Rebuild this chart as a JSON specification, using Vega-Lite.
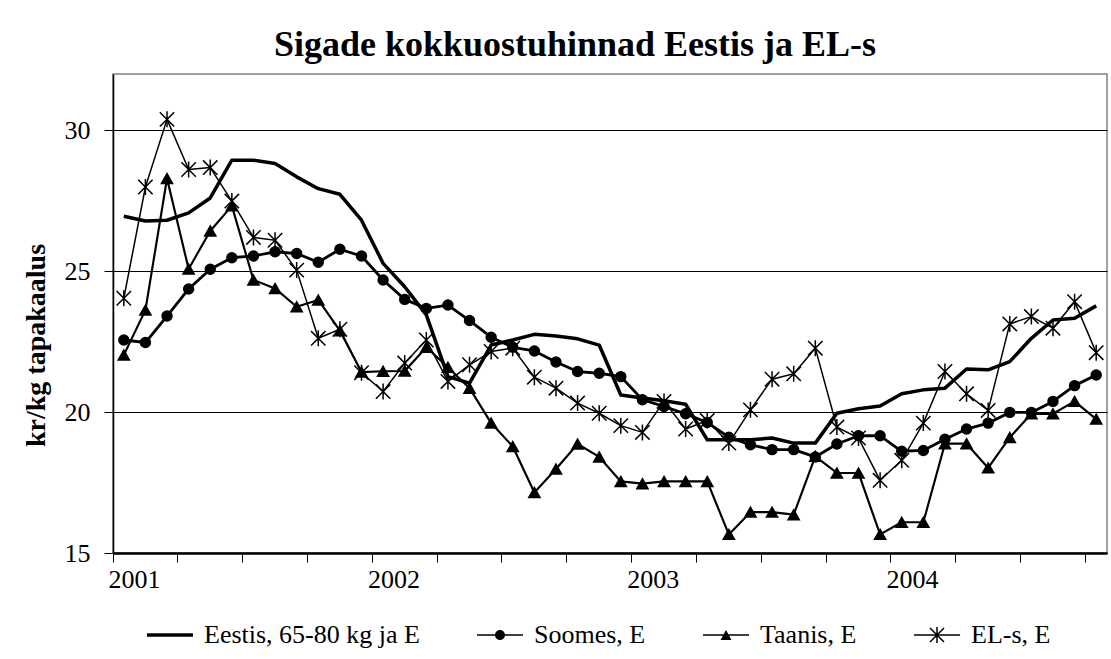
{
  "$schema": "https://vega.github.io/schema/vega-lite/v6.json",
  "width": 994,
  "height": 479,
  "autosize": {"type": "none"},
  "padding": {"left": 113, "top": 74, "right": 4, "bottom": 106},
  "background": "white",
  "title": {
    "text": "Sigade kokkuostuhinnad Eestis ja EL-s",
    "font": "Liberation Serif",
    "fontSize": 36,
    "fontWeight": "bold",
    "color": "black",
    "anchor": "middle",
    "frame": "group",
    "offset": 10,
    "dx": -35
  },
  "data": {
    "values": [
      {"month":"2001-01","series":"Eestis, 65-80 kg ja E","price":26.95},
      {"month":"2001-02","series":"Eestis, 65-80 kg ja E","price":26.78},
      {"month":"2001-03","series":"Eestis, 65-80 kg ja E","price":26.81},
      {"month":"2001-04","series":"Eestis, 65-80 kg ja E","price":27.07},
      {"month":"2001-05","series":"Eestis, 65-80 kg ja E","price":27.6},
      {"month":"2001-06","series":"Eestis, 65-80 kg ja E","price":28.94},
      {"month":"2001-07","series":"Eestis, 65-80 kg ja E","price":28.94},
      {"month":"2001-08","series":"Eestis, 65-80 kg ja E","price":28.82},
      {"month":"2001-09","series":"Eestis, 65-80 kg ja E","price":28.35},
      {"month":"2001-10","series":"Eestis, 65-80 kg ja E","price":27.93},
      {"month":"2001-11","series":"Eestis, 65-80 kg ja E","price":27.73},
      {"month":"2001-12","series":"Eestis, 65-80 kg ja E","price":26.81},
      {"month":"2002-01","series":"Eestis, 65-80 kg ja E","price":25.28},
      {"month":"2002-02","series":"Eestis, 65-80 kg ja E","price":24.45},
      {"month":"2002-03","series":"Eestis, 65-80 kg ja E","price":23.45},
      {"month":"2002-04","series":"Eestis, 65-80 kg ja E","price":21.26},
      {"month":"2002-05","series":"Eestis, 65-80 kg ja E","price":21.03},
      {"month":"2002-06","series":"Eestis, 65-80 kg ja E","price":22.38},
      {"month":"2002-07","series":"Eestis, 65-80 kg ja E","price":22.56},
      {"month":"2002-08","series":"Eestis, 65-80 kg ja E","price":22.76},
      {"month":"2002-09","series":"Eestis, 65-80 kg ja E","price":22.7},
      {"month":"2002-10","series":"Eestis, 65-80 kg ja E","price":22.6},
      {"month":"2002-11","series":"Eestis, 65-80 kg ja E","price":22.38},
      {"month":"2002-12","series":"Eestis, 65-80 kg ja E","price":20.61},
      {"month":"2003-01","series":"Eestis, 65-80 kg ja E","price":20.5},
      {"month":"2003-02","series":"Eestis, 65-80 kg ja E","price":20.4},
      {"month":"2003-03","series":"Eestis, 65-80 kg ja E","price":20.28},
      {"month":"2003-04","series":"Eestis, 65-80 kg ja E","price":19.02},
      {"month":"2003-05","series":"Eestis, 65-80 kg ja E","price":19.02},
      {"month":"2003-06","series":"Eestis, 65-80 kg ja E","price":19.02},
      {"month":"2003-07","series":"Eestis, 65-80 kg ja E","price":19.08},
      {"month":"2003-08","series":"Eestis, 65-80 kg ja E","price":18.9},
      {"month":"2003-09","series":"Eestis, 65-80 kg ja E","price":18.9},
      {"month":"2003-10","series":"Eestis, 65-80 kg ja E","price":19.96},
      {"month":"2003-11","series":"Eestis, 65-80 kg ja E","price":20.12},
      {"month":"2003-12","series":"Eestis, 65-80 kg ja E","price":20.22},
      {"month":"2004-01","series":"Eestis, 65-80 kg ja E","price":20.65},
      {"month":"2004-02","series":"Eestis, 65-80 kg ja E","price":20.79},
      {"month":"2004-03","series":"Eestis, 65-80 kg ja E","price":20.85},
      {"month":"2004-04","series":"Eestis, 65-80 kg ja E","price":21.53},
      {"month":"2004-05","series":"Eestis, 65-80 kg ja E","price":21.5},
      {"month":"2004-06","series":"Eestis, 65-80 kg ja E","price":21.79},
      {"month":"2004-07","series":"Eestis, 65-80 kg ja E","price":22.62},
      {"month":"2004-08","series":"Eestis, 65-80 kg ja E","price":23.27},
      {"month":"2004-09","series":"Eestis, 65-80 kg ja E","price":23.33},
      {"month":"2004-10","series":"Eestis, 65-80 kg ja E","price":23.77},

      {"month":"2001-01","series":"Soomes, E","price":22.56},
      {"month":"2001-02","series":"Soomes, E","price":22.47},
      {"month":"2001-03","series":"Soomes, E","price":23.41},
      {"month":"2001-04","series":"Soomes, E","price":24.37},
      {"month":"2001-05","series":"Soomes, E","price":25.07},
      {"month":"2001-06","series":"Soomes, E","price":25.48},
      {"month":"2001-07","series":"Soomes, E","price":25.54},
      {"month":"2001-08","series":"Soomes, E","price":25.69},
      {"month":"2001-09","series":"Soomes, E","price":25.63},
      {"month":"2001-10","series":"Soomes, E","price":25.32},
      {"month":"2001-11","series":"Soomes, E","price":25.78},
      {"month":"2001-12","series":"Soomes, E","price":25.54},
      {"month":"2002-01","series":"Soomes, E","price":24.69},
      {"month":"2002-02","series":"Soomes, E","price":24.0},
      {"month":"2002-03","series":"Soomes, E","price":23.68},
      {"month":"2002-04","series":"Soomes, E","price":23.8},
      {"month":"2002-05","series":"Soomes, E","price":23.25},
      {"month":"2002-06","series":"Soomes, E","price":22.66},
      {"month":"2002-07","series":"Soomes, E","price":22.3},
      {"month":"2002-08","series":"Soomes, E","price":22.17},
      {"month":"2002-09","series":"Soomes, E","price":21.78},
      {"month":"2002-10","series":"Soomes, E","price":21.44},
      {"month":"2002-11","series":"Soomes, E","price":21.38},
      {"month":"2002-12","series":"Soomes, E","price":21.26},
      {"month":"2003-01","series":"Soomes, E","price":20.44},
      {"month":"2003-02","series":"Soomes, E","price":20.2},
      {"month":"2003-03","series":"Soomes, E","price":19.94},
      {"month":"2003-04","series":"Soomes, E","price":19.63},
      {"month":"2003-05","series":"Soomes, E","price":19.11},
      {"month":"2003-06","series":"Soomes, E","price":18.84},
      {"month":"2003-07","series":"Soomes, E","price":18.67},
      {"month":"2003-08","series":"Soomes, E","price":18.67},
      {"month":"2003-09","series":"Soomes, E","price":18.41},
      {"month":"2003-10","series":"Soomes, E","price":18.87},
      {"month":"2003-11","series":"Soomes, E","price":19.16},
      {"month":"2003-12","series":"Soomes, E","price":19.16},
      {"month":"2004-01","series":"Soomes, E","price":18.61},
      {"month":"2004-02","series":"Soomes, E","price":18.64},
      {"month":"2004-03","series":"Soomes, E","price":19.04},
      {"month":"2004-04","series":"Soomes, E","price":19.4},
      {"month":"2004-05","series":"Soomes, E","price":19.61},
      {"month":"2004-06","series":"Soomes, E","price":19.99},
      {"month":"2004-07","series":"Soomes, E","price":19.99},
      {"month":"2004-08","series":"Soomes, E","price":20.38},
      {"month":"2004-09","series":"Soomes, E","price":20.94},
      {"month":"2004-10","series":"Soomes, E","price":21.32},

      {"month":"2001-01","series":"Taanis, E","price":22.03},
      {"month":"2001-02","series":"Taanis, E","price":23.62},
      {"month":"2001-03","series":"Taanis, E","price":28.29},
      {"month":"2001-04","series":"Taanis, E","price":25.08},
      {"month":"2001-05","series":"Taanis, E","price":26.43},
      {"month":"2001-06","series":"Taanis, E","price":27.32},
      {"month":"2001-07","series":"Taanis, E","price":24.69},
      {"month":"2001-08","series":"Taanis, E","price":24.39},
      {"month":"2001-09","series":"Taanis, E","price":23.74},
      {"month":"2001-10","series":"Taanis, E","price":23.98},
      {"month":"2001-11","series":"Taanis, E","price":22.89},
      {"month":"2001-12","series":"Taanis, E","price":21.42},
      {"month":"2002-01","series":"Taanis, E","price":21.45},
      {"month":"2002-02","series":"Taanis, E","price":21.46},
      {"month":"2002-03","series":"Taanis, E","price":22.3},
      {"month":"2002-04","series":"Taanis, E","price":21.59},
      {"month":"2002-05","series":"Taanis, E","price":20.85},
      {"month":"2002-06","series":"Taanis, E","price":19.61},
      {"month":"2002-07","series":"Taanis, E","price":18.78},
      {"month":"2002-08","series":"Taanis, E","price":17.15},
      {"month":"2002-09","series":"Taanis, E","price":17.98},
      {"month":"2002-10","series":"Taanis, E","price":18.87},
      {"month":"2002-11","series":"Taanis, E","price":18.41},
      {"month":"2002-12","series":"Taanis, E","price":17.54},
      {"month":"2003-01","series":"Taanis, E","price":17.46},
      {"month":"2003-02","series":"Taanis, E","price":17.54},
      {"month":"2003-03","series":"Taanis, E","price":17.54},
      {"month":"2003-04","series":"Taanis, E","price":17.54},
      {"month":"2003-05","series":"Taanis, E","price":15.66},
      {"month":"2003-06","series":"Taanis, E","price":16.45},
      {"month":"2003-07","series":"Taanis, E","price":16.45},
      {"month":"2003-08","series":"Taanis, E","price":16.36},
      {"month":"2003-09","series":"Taanis, E","price":18.43},
      {"month":"2003-10","series":"Taanis, E","price":17.84},
      {"month":"2003-11","series":"Taanis, E","price":17.84},
      {"month":"2003-12","series":"Taanis, E","price":15.66},
      {"month":"2004-01","series":"Taanis, E","price":16.09},
      {"month":"2004-02","series":"Taanis, E","price":16.09},
      {"month":"2004-03","series":"Taanis, E","price":18.88},
      {"month":"2004-04","series":"Taanis, E","price":18.88},
      {"month":"2004-05","series":"Taanis, E","price":18.02},
      {"month":"2004-06","series":"Taanis, E","price":19.1},
      {"month":"2004-07","series":"Taanis, E","price":19.94},
      {"month":"2004-08","series":"Taanis, E","price":19.94},
      {"month":"2004-09","series":"Taanis, E","price":20.38},
      {"month":"2004-10","series":"Taanis, E","price":19.75},

      {"month":"2001-01","series":"EL-s, E","price":24.04},
      {"month":"2001-02","series":"EL-s, E","price":27.99},
      {"month":"2001-03","series":"EL-s, E","price":30.39},
      {"month":"2001-04","series":"EL-s, E","price":28.61},
      {"month":"2001-05","series":"EL-s, E","price":28.68},
      {"month":"2001-06","series":"EL-s, E","price":27.49},
      {"month":"2001-07","series":"EL-s, E","price":26.2},
      {"month":"2001-08","series":"EL-s, E","price":26.1},
      {"month":"2001-09","series":"EL-s, E","price":25.04},
      {"month":"2001-10","series":"EL-s, E","price":22.62},
      {"month":"2001-11","series":"EL-s, E","price":22.94},
      {"month":"2001-12","series":"EL-s, E","price":21.4},
      {"month":"2002-01","series":"EL-s, E","price":20.73},
      {"month":"2002-02","series":"EL-s, E","price":21.74},
      {"month":"2002-03","series":"EL-s, E","price":22.56},
      {"month":"2002-04","series":"EL-s, E","price":21.09},
      {"month":"2002-05","series":"EL-s, E","price":21.68},
      {"month":"2002-06","series":"EL-s, E","price":22.15},
      {"month":"2002-07","series":"EL-s, E","price":22.27},
      {"month":"2002-08","series":"EL-s, E","price":21.24},
      {"month":"2002-09","series":"EL-s, E","price":20.85},
      {"month":"2002-10","series":"EL-s, E","price":20.32},
      {"month":"2002-11","series":"EL-s, E","price":19.96},
      {"month":"2002-12","series":"EL-s, E","price":19.52},
      {"month":"2003-01","series":"EL-s, E","price":19.28},
      {"month":"2003-02","series":"EL-s, E","price":20.38},
      {"month":"2003-03","series":"EL-s, E","price":19.4},
      {"month":"2003-04","series":"EL-s, E","price":19.7},
      {"month":"2003-05","series":"EL-s, E","price":18.9},
      {"month":"2003-06","series":"EL-s, E","price":20.08},
      {"month":"2003-07","series":"EL-s, E","price":21.17},
      {"month":"2003-08","series":"EL-s, E","price":21.36},
      {"month":"2003-09","series":"EL-s, E","price":22.27},
      {"month":"2003-10","series":"EL-s, E","price":19.47},
      {"month":"2003-11","series":"EL-s, E","price":19.08},
      {"month":"2003-12","series":"EL-s, E","price":17.58},
      {"month":"2004-01","series":"EL-s, E","price":18.29},
      {"month":"2004-02","series":"EL-s, E","price":19.61},
      {"month":"2004-03","series":"EL-s, E","price":21.44},
      {"month":"2004-04","series":"EL-s, E","price":20.65},
      {"month":"2004-05","series":"EL-s, E","price":20.06},
      {"month":"2004-06","series":"EL-s, E","price":23.13},
      {"month":"2004-07","series":"EL-s, E","price":23.39},
      {"month":"2004-08","series":"EL-s, E","price":22.98},
      {"month":"2004-09","series":"EL-s, E","price":23.92},
      {"month":"2004-10","series":"EL-s, E","price":22.11}
    ]
  },
  "encoding": {
    "x": {
      "field": "month",
      "type": "ordinal",
      "sort": null,
      "scale": {"type": "band", "paddingInner": 0, "paddingOuter": 0},
      "axis": {
        "title": null,
        "values": ["2001-01","2001-04","2001-07","2001-10","2002-01","2002-04","2002-07","2002-10","2003-01","2003-04","2003-07","2003-10","2004-01","2004-04","2004-07","2004-10"],
        "bandPosition": 0,
        "labelExpr": "substring(datum.value,5,7) == '01' ? substring(datum.value,0,4) : ''",
        "labelOffset": 10.8,
        "labelAngle": 0,
        "labelOverlap": false,
        "labelBound": false,
        "labelFont": "Liberation Serif",
        "labelFontSize": 26,
        "labelColor": "black",
        "labelPadding": 4,
        "tickSize": 9,
        "tickColor": "black",
        "tickWidth": 1,
        "domainColor": "black",
        "domainWidth": 2.5,
        "grid": false
      }
    },
    "y": {
      "field": "price",
      "type": "quantitative",
      "scale": {"domain": [15, 32], "nice": false, "zero": false},
      "axis": {
        "values": [15, 20, 25, 30],
        "title": "kr/kg tapakaalus",
        "titleFont": "Liberation Serif",
        "titleFontSize": 28,
        "titleFontWeight": "bold",
        "titleColor": "black",
        "titlePadding": 14,
        "titleY": 271,
        "labelFont": "Liberation Serif",
        "labelFontSize": 26,
        "labelColor": "black",
        "labelPadding": 14,
        "tickSize": 9,
        "tickColor": "black",
        "tickWidth": 1,
        "domainColor": "black",
        "domainWidth": 1.5,
        "grid": true,
        "gridColor": "black",
        "gridWidth": 1,
        "gridOpacity": 1
      }
    }
  },
  "layer": [
    {
      "mark": {"type": "line", "color": "black", "strokeJoin": "round"},
      "encoding": {
        "detail": {"field": "series"},
        "strokeWidth": {
          "field": "series",
          "type": "nominal",
          "scale": {"domain": ["Eestis, 65-80 kg ja E", "Soomes, E", "Taanis, E", "EL-s, E"], "range": [3.5, 1.5, 1.5, 1.5]},
          "legend": null
        }
      }
    },
    {
      "transform": [{"filter": "datum.series != 'Eestis, 65-80 kg ja E'"}],
      "mark": {"type": "point", "filled": true, "fill": "black", "stroke": "black", "strokeWidth": 1.5, "size": 256, "opacity": 1},
      "encoding": {
        "shape": {
          "field": "series",
          "type": "nominal",
          "scale": {
            "domain": ["Soomes, E", "Taanis, E", "EL-s, E"],
            "range": [
              "M0.62,0A0.62,0.62 0 1,1 -0.62,0A0.62,0.62 0 1,1 0.62,0Z",
              "M0,-0.62L0.7,0.62L-0.7,0.62Z",
              "M0,-1V1M-0.9,-0.9L0.9,0.9M-0.9,0.9L0.9,-0.9"
            ]
          },
          "legend": null
        }
      }
    },
    {
      "mark": {"type": "point", "filled": true, "fill": "black", "size": 100, "opacity": 0},
      "encoding": {
        "shape": {
          "field": "series",
          "type": "nominal",
          "scale": {
            "domain": ["Eestis, 65-80 kg ja E", "Soomes, E", "Taanis, E", "EL-s, E"],
            "range": [
              "M-4.6,-0.35H4.6V0.35H-4.6Z",
              "M-4.6,-0.15H4.6V0.15H-4.6ZM1,0A1,1 0 1,1 -1,0A1,1 0 1,1 1,0Z",
              "M-4.6,-0.15H4.6V0.15H-4.6ZM0,-1L1.1,1L-1.1,1Z",
              "M-4.6,-0.15H4.6V0.15H-4.6ZM-0.15,-1.6H0.15V1.6H-0.15ZM-1.294,-1.506L1.506,1.294L1.294,1.506L-1.506,-1.294ZM-1.506,1.294L1.294,-1.506L1.506,-1.294L-1.294,1.506Z"
            ]
          },
          "legend": {
            "title": null,
            "orient": "none",
            "direction": "horizontal",
            "columns": 4,
            "legendX": 44,
            "legendY": 548,
            "padding": 0,
            "symbolSize": 100,
            "symbolOpacity": 1,
            "symbolFillColor": "black",
            "labelFont": "Liberation Serif",
            "labelFontSize": 26,
            "labelColor": "black",
            "labelOffset": 21,
            "labelLimit": 400,
            "columnPadding": 54
          }
        }
      }
    }
  ],
  "resolve": {"scale": {"shape": "independent"}, "legend": {"shape": "independent"}},
  "config": {
    "view": {"stroke": "#808080", "strokeWidth": 1.5},
    "font": "Liberation Serif"
  }
}
